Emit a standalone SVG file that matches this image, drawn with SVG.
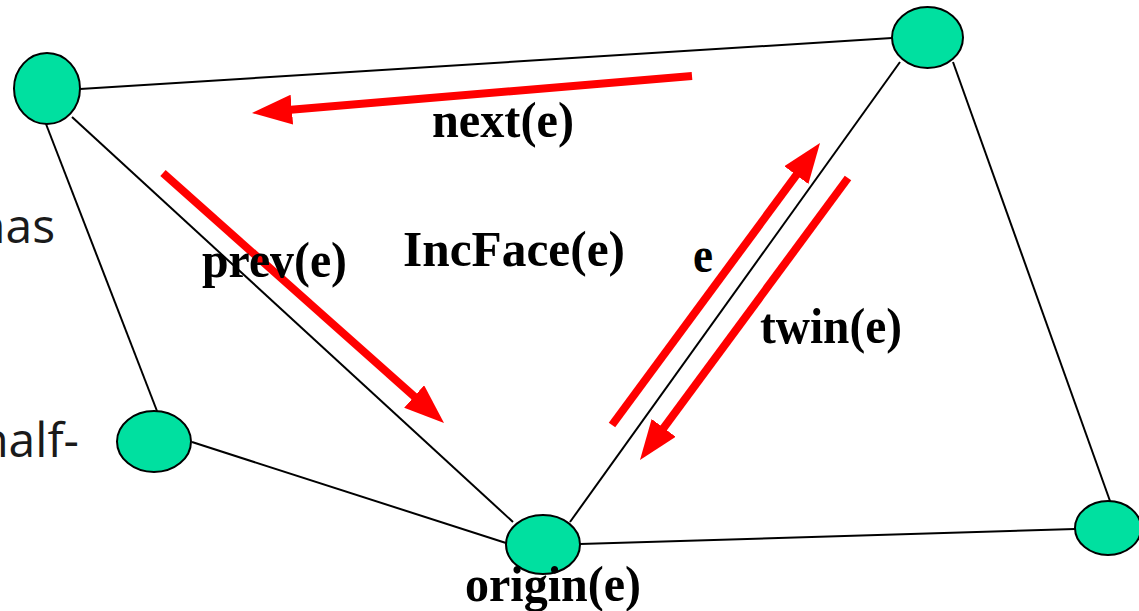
<svg xmlns="http://www.w3.org/2000/svg" width="1139" height="611" viewBox="0 0 1139 611">
<defs>
<style>
.edge{stroke:#000;stroke-width:2;fill:none}
.arrow{stroke:#ff0000;stroke-width:8;fill:none;marker-end:url(#head)}
.node{fill:#00e0a0;stroke:#000;stroke-width:2}
.lbl{font-family:"Liberation Serif","Times New Roman",serif;font-weight:bold;font-size:50px;fill:#000}
.side{font-family:"Open Sans","Noto Sans",sans-serif;font-size:48px;fill:#1a1a1a}
</style>
<marker id="head" markerUnits="userSpaceOnUse" viewBox="0 0 40 30" markerWidth="40" markerHeight="30" refX="10" refY="15" orient="auto">
<path d="M0,0 L40,15 L0,30 Z" fill="#ff0000"/>
</marker>
</defs>
<rect width="1139" height="611" fill="#fff"/>
<text class="side" x="55" y="243" text-anchor="end">has</text>
<text class="side" x="79" y="457" text-anchor="end">half-</text>
<g id="connectors">
<line class="edge" x1="80" y1="89" x2="892" y2="38"/>
<line class="edge" x1="46" y1="124" x2="157" y2="411"/>
<line class="edge" x1="72" y1="117" x2="513" y2="522"/>
<line class="edge" x1="192" y1="442" x2="506" y2="543"/>
<line class="edge" x1="570" y1="522" x2="900" y2="62"/>
<line class="edge" x1="953" y1="62" x2="1110" y2="501"/>
<line class="edge" x1="580" y1="544" x2="1075" y2="529"/>
<line class="arrow" x1="692" y1="76" x2="281.9" y2="110.5"/>
<line class="arrow" x1="163" y1="173" x2="421.6" y2="403.1"/>
<line class="arrow" x1="612" y1="425" x2="802.2" y2="167.1"/>
<line class="arrow" x1="848" y1="178" x2="657.8" y2="435.9"/>
</g>
<g id="nodeA"><ellipse class="node" cx="47" cy="88.5" rx="33" ry="35.5"/></g>
<g id="nodeB"><ellipse class="node" cx="927.5" cy="37.5" rx="35.5" ry="30.5"/></g>
<g id="nodeC"><ellipse class="node" cx="154" cy="441.5" rx="37" ry="30.5"/></g>
<g id="nodeD"><ellipse class="node" cx="543" cy="544.5" rx="37" ry="29.5"/></g>
<g id="nodeE"><ellipse class="node" cx="1108" cy="528" rx="33" ry="27"/></g>
<g id="labels">
<text class="lbl" x="432" y="137" textLength="142" lengthAdjust="spacingAndGlyphs">next(e)</text>
<text class="lbl" x="202" y="277" textLength="145" lengthAdjust="spacingAndGlyphs">prev(e)</text>
<text class="lbl" x="403" y="266" textLength="222" lengthAdjust="spacingAndGlyphs">IncFace(e)</text>
<text class="lbl" x="693" y="272" textLength="20" lengthAdjust="spacingAndGlyphs">e</text>
<text class="lbl" x="760" y="343" textLength="142" lengthAdjust="spacingAndGlyphs">twin(e)</text>
<text class="lbl" x="465" y="601" textLength="176" lengthAdjust="spacingAndGlyphs">origin(e)</text>
</g>
</svg>
